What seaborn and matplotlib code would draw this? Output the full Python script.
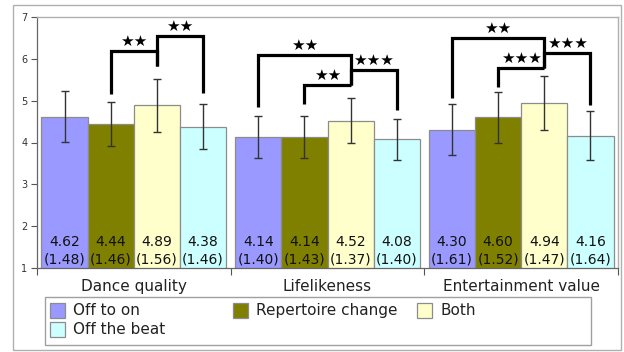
import matplotlib
matplotlib.use("Agg")
import matplotlib.pyplot as plt
from matplotlib.patches import Rectangle
import pandas as pd
import seaborn as sns

# ---- data -------------------------------------------------------------
categories = ["Dance quality", "Lifelikeness", "Entertainment value"]
conditions = ["Off to on", "Repertoire change", "Both", "Off the beat"]

mean_off_to_on = [4.62, 4.14, 4.30]
mean_repertoire = [4.44, 4.14, 4.60]
mean_both = [4.89, 4.52, 4.94]
mean_off_beat = [4.38, 4.08, 4.16]

sd_off_to_on = [1.48, 1.40, 1.61]
sd_repertoire = [1.46, 1.43, 1.52]
sd_both = [1.56, 1.37, 1.47]
sd_off_beat = [1.46, 1.40, 1.64]

# half-length of the confidence interval drawn as error bar
ci_off_to_on = [0.61, 0.50, 0.61]
ci_repertoire = [0.53, 0.50, 0.60]
ci_both = [0.63, 0.54, 0.64]
ci_off_beat = [0.53, 0.49, 0.59]

# significant pairwise differences: (category, condition a, condition b, marker)
sig_pairs = [
    ("Dance quality", "Repertoire change", "Both", "★★"),
    ("Dance quality", "Both", "Off the beat", "★★"),
    ("Lifelikeness", "Off to on", "Both", "★★"),
    ("Lifelikeness", "Repertoire change", "Both", "★★"),
    ("Lifelikeness", "Both", "Off the beat", "★★★"),
    ("Entertainment value", "Off to on", "Both", "★★"),
    ("Entertainment value", "Repertoire change", "Both", "★★★"),
    ("Entertainment value", "Both", "Off the beat", "★★★"),
]

# ---- bracket layout (heights in axis units) ---------------------------
bracket_top = [6.19, 6.55, 6.09, 5.37, 5.73, 6.50, 5.78, 6.14]
bracket_feet = [(5.16, 5.83), (5.83, 5.18), (4.85, 5.37), (4.92, 5.37),
                (5.37, 4.78), (5.06, 5.78), (5.33, 5.78), (5.78, 4.90)]

palette = {
    "Off to on": "#9999ff",
    "Repertoire change": "#808000",
    "Both": "#ffffcc",
    "Off the beat": "#ccffff",
}

means = [mean_off_to_on, mean_repertoire, mean_both, mean_off_beat]
sds = [sd_off_to_on, sd_repertoire, sd_both, sd_off_beat]
cis = [ci_off_to_on, ci_repertoire, ci_both, ci_off_beat]

rows = []
for cond, m, s, c in zip(conditions, means, sds, cis):
    for cat, mv, sv, cv in zip(categories, m, s, c):
        rows.append({"category": cat, "condition": cond,
                     "mean": mv, "sd": sv, "ci": cv})
df = pd.DataFrame(rows)

# ---- figure -----------------------------------------------------------
W, H = 624, 352
fig = plt.figure(figsize=(W / 100, H / 100), dpi=100)
plt.rcParams["font.family"] = ["DejaVu Sans"]

ax = fig.add_axes([37 / W, (H - 268) / H, (618 - 37) / W, (268 - 17) / H])

sns.barplot(data=df, x="category", y="mean", hue="condition",
            order=categories, hue_order=conditions, palette=palette,
            width=0.954, errorbar=None, saturation=1, dodge=True,
            edgecolor="#8c8c8c", linewidth=0.9, legend=False, ax=ax)

# bar centres, keyed by (category, condition)
centres = {}
for cond, container in zip(conditions, ax.containers):
    for cat, bar in zip(categories, container):
        centres[(cat, cond)] = bar.get_x() + bar.get_width() / 2

# error bars and value labels
for _, r in df.iterrows():
    x = centres[(r["category"], r["condition"])]
    ax.errorbar(x, r["mean"], yerr=r["ci"], fmt="none", ecolor="#333333",
                elinewidth=1.0, capsize=3.2, capthick=1.0, zorder=4)
    ax.annotate(f"{r['mean']:.2f}\n({r['sd']:.2f})", (x, 1.0),
                xytext=(0, 1.2), textcoords="offset points",
                ha="center", va="bottom", fontsize=10, color="#111111",
                linespacing=1.3, zorder=5)

# significance brackets
for (cat, a, b, mark), top, (fa, fb) in zip(sig_pairs, bracket_top, bracket_feet):
    xa, xb = centres[(cat, a)], centres[(cat, b)]
    ax.plot([xa, xa, xb, xb], [fa, top, top, fb], color="black", lw=2.3,
            solid_joinstyle="miter", solid_capstyle="butt", zorder=6)
    ax.annotate(mark, ((xa + xb) / 2, top), xytext=(0, 1.5),
                textcoords="offset points", ha="center", va="bottom",
                fontsize=11, color="black", zorder=6)

# axes styling
ax.set_xlim(-0.5, 2.5)
ax.set_ylim(1, 7)
ax.set_xlabel("")
ax.set_ylabel("")
ax.set_yticks(range(1, 8))
ax.tick_params(axis="y", labelsize=7, length=4, width=0.8, color="#555555",
               labelcolor="#333333", pad=3)
ax.set_xticks([-0.5, 0.5, 1.5, 2.5])
ax.set_xticklabels([])
ax.set_xticks([0, 1, 2], minor=True)
ax.set_xticklabels(categories, minor=True)
ax.tick_params(axis="x", which="major", length=5, width=0.8, color="#555555")
ax.tick_params(axis="x", which="minor", length=0, pad=8, labelsize=11,
               labelcolor="#222222")
for side in ("left", "bottom"):
    ax.spines[side].set_color("#666666")
    ax.spines[side].set_linewidth(0.9)
for side in ("top", "right"):
    ax.spines[side].set_color("#b0b0b0")
    ax.spines[side].set_linewidth(1.0)

# outer frame
fig.add_artist(Rectangle((13 / W, (H - 350) / H), (621 - 13) / W, 345 / H,
                         transform=fig.transFigure, fill=False,
                         edgecolor="#b0b0b0", lw=1.0))

# legend box laid out on a three-column grid
fig.add_artist(Rectangle((45 / W, (H - 345) / H), (591 - 45) / W, 48 / H,
                         transform=fig.transFigure, fill=False,
                         edgecolor="#a0a0a0", lw=1.0))
col_x = [50, 233, 417]
row_top = [303, 322]
for i, cond in enumerate(conditions):
    row, col = divmod(i, 3)
    px, py = col_x[col], row_top[row]
    fig.add_artist(Rectangle((px / W, (H - py - 15) / H), 15 / W, 15 / H,
                             transform=fig.transFigure,
                             facecolor=palette[cond], edgecolor="#8c8c8c",
                             lw=0.9))
    fig.text((px + 23) / W, (H - py - 7.5) / H, cond, fontsize=11,
             color="#222222", ha="left", va="center")

fig.savefig("out.png", dpi=100)
